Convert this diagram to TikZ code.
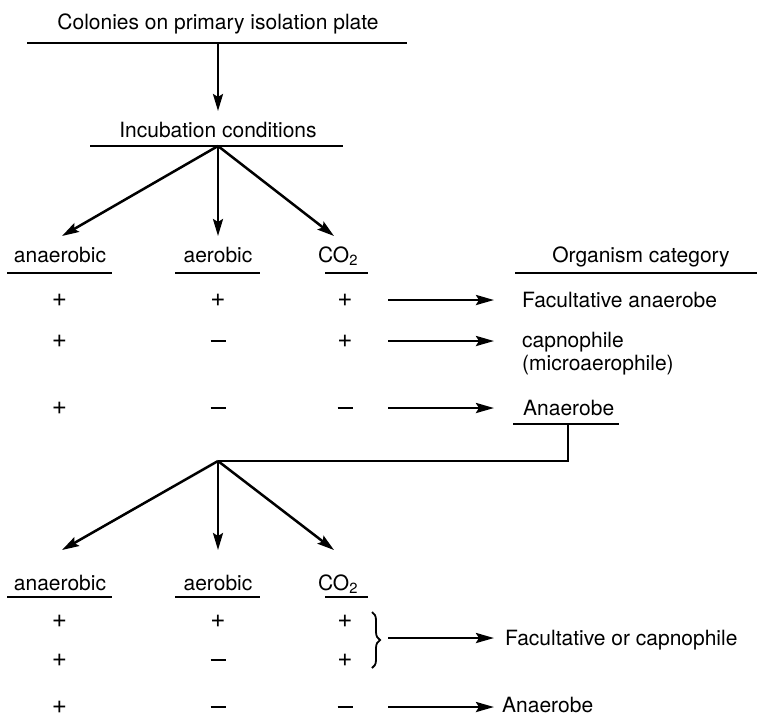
\documentclass[tikz,border=0pt]{standalone}
\usepackage{fontspec}
\setmainfont{TeX Gyre Heros}
\usetikzlibrary{arrows.meta,decorations.pathreplacing}
\newcommand{\plussign}{\fontsize{26}{28}\selectfont +}
\newcommand{\minussign}{\rule{15pt}{1.9pt}}
\begin{document}
\begin{tikzpicture}[x=1pt,y=-1pt,
  lbl/.style={inner sep=0pt,anchor=base,font=\fontsize{21}{24}\selectfont},
  lleft/.style={lbl,anchor=base west},
  sgn/.style={inner sep=0pt,anchor=center},
  rule/.style={line width=1.7pt},
  arr/.style={line width=2.5pt,-{Stealth[length=17pt,width=10pt,inset=3pt]}},
  harr/.style={line width=2.8pt,-{Stealth[length=18pt,width=10pt,inset=3pt]}},
  link/.style={line width=2.6pt}]
\useasboundingbox (0,0) rectangle (762,716);

% top of the scheme
\node[lbl] (colonies) at (218,29) {Colonies on primary isolation plate};
\draw[rule] (27,43) -- (407,43);
\coordinate (colbar) at (218,43);
\node[lbl] (incub) at (218,137) {Incubation conditions};
\draw[rule] (90,146) -- (343,146);
\coordinate (incbar) at (218,146);
\coordinate (tipA1) at (218,111);
\draw[arr] (colbar) -- (tipA1);

% first set of conditions
\foreach \n/\x/\t in {an1/60/anaerobic,ae1/218/aerobic,co1/338/{CO\textsubscript{2}}}{
  \node[lbl] (\n) at (\x,262) {\t};
}
\draw[rule] (7,273) -- (112,273);
\draw[rule] (175,273) -- (260,273);
\draw[rule] (325,273) -- (368,273);
\coordinate (t1a) at (62,236);
\coordinate (t1b) at (218,236);
\coordinate (t1c) at (334,236);
\draw[arr] (incbar) -- (t1a);
\draw[arr] (incbar) -- (t1b);
\draw[arr] (incbar) -- (t1c);

\node[lbl] (orgcat) at (641,262) {Organism category};
\draw[rule] (515,273) -- (757,273);

% first table of results
\foreach \y/\a/\b/\c/\r in {300/\plussign/\plussign/\plussign/r1,341/\plussign/\minussign/\plussign/r2,408/\plussign/\minussign/\minussign/r3}{
  \node[sgn] (\r a) at (59.5,\y) {\a};
  \node[sgn] (\r b) at (218,\y) {\b};
  \node[sgn] (\r c) at (345,\y) {\c};
  \coordinate (\r s) at (388,\y);
  \coordinate (\r e) at (494,\y);
  \draw[harr] (\r s) -- (\r e);
}
\node[lleft] (fac) at (522,307) {Facultative anaerobe};
\node[lleft] (cap) at (522,347) {capnophile};
\node[lleft] (micro) at (522,370) {(microaerophile)};
\node[lleft] (anae) at (523,415) {Anaerobe};
\draw[rule] (513,424) -- (619,424);

% link from Anaerobe back to a second round of incubation
\coordinate (anbar) at (568,424);
\coordinate (corner) at (568,461);
\coordinate (split) at (218,461);
\draw[link] (anbar) -- (corner) -- (split);
\coordinate (t2a) at (62,550);
\coordinate (t2b) at (218,550);
\coordinate (t2c) at (334,550);
\draw[arr] (split) -- (t2a);
\draw[arr] (split) -- (t2b);
\draw[arr] (split) -- (t2c);

% second set of conditions
\foreach \n/\x/\t in {an2/60/anaerobic,ae2/218/aerobic,co2/338/{CO\textsubscript{2}}}{
  \node[lbl] (\n) at (\x,590) {\t};
}
\draw[rule] (7,597) -- (112,597);
\draw[rule] (175,597) -- (260,597);
\draw[rule] (325,597) -- (368,597);

\foreach \y/\a/\b/\c/\r in {621/\plussign/\plussign/\plussign/s1,660/\plussign/\minussign/\plussign/s2,707/\plussign/\minussign/\minussign/s3}{
  \node[sgn] (\r a) at (59.5,\y) {\a};
  \node[sgn] (\r b) at (218,\y) {\b};
  \node[sgn] (\r c) at (345,\y) {\c};
}
\draw[line width=1.8pt,decorate,decoration={brace,amplitude=8pt}] (372,612) -- (372,668);
\coordinate (bs) at (388,638);
\coordinate (be) at (494,638);
\draw[harr] (bs) -- (be);
\node[lleft] (facor) at (505,645) {Facultative or capnophile};
\coordinate (ls) at (388,707);
\coordinate (le) at (494,707);
\draw[harr] (ls) -- (le);
\node[lleft] (anae2) at (502,712) {Anaerobe};
\end{tikzpicture}
\end{document}
